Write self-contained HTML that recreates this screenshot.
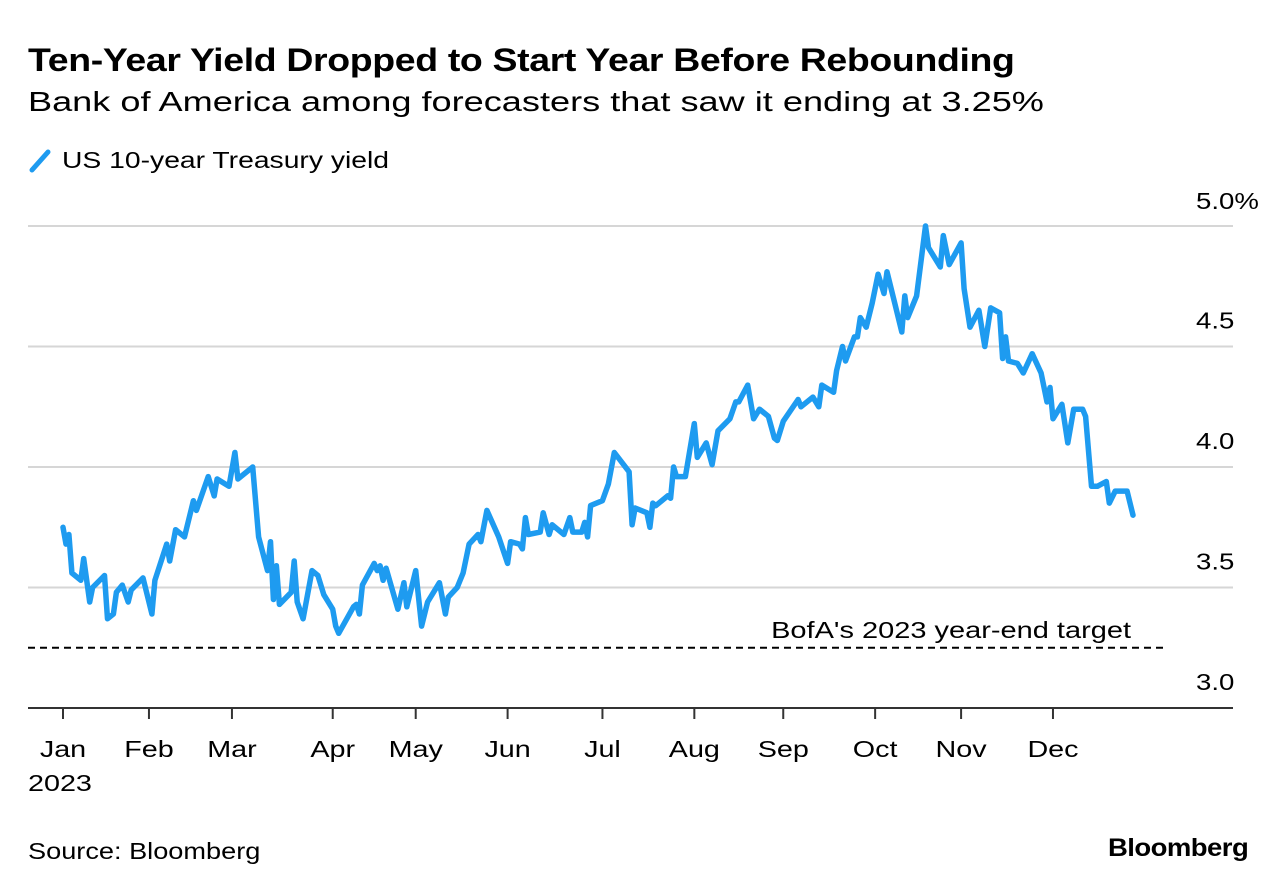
<!DOCTYPE html>
<html><head><meta charset="utf-8"><style>
body{margin:0;background:#fff;width:1287px;height:892px;overflow:hidden;font-family:"Liberation Sans",Arial,sans-serif;color:#000}
.t{position:absolute;white-space:nowrap;transform-origin:0 0}
</style></head><body>
<div class="t" style="left:28px;top:42px;font-size:32px;font-weight:bold;letter-spacing:-0.3px;transform:scaleX(1.17)">Ten-Year Yield Dropped to Start Year Before Rebounding</div>
<div class="t" style="left:28px;top:86px;font-size:28px;transform:scaleX(1.29)">Bank of America among forecasters that saw it ending at 3.25%</div>
<div class="t" style="left:28px;top:146px;font-size:23px"><svg width="24" height="28" style="vertical-align:-6px;margin-right:10px"><line x1="4" y1="24" x2="20" y2="6" stroke="#1e9bf0" stroke-width="5" stroke-linecap="round"/></svg><span style="display:inline-block;transform:scaleX(1.23);transform-origin:0 0">US 10-year Treasury yield</span></div>
<svg id="c" width="1287" height="892" style="position:absolute;left:0;top:0"></svg>
<div class="t" style="left:28px;top:838px;font-size:23px;transform:scaleX(1.18)">Source: Bloomberg</div>
<div class="t" style="left:1108px;top:834px;font-size:25px;font-weight:bold;letter-spacing:-0.5px;transform:scaleX(1.1)">Bloomberg</div>
<script>
const days=[0,1,2,3,6,7,9,10,14,15,17,18,20,22,23,27,30,31,35,36,38,41,44,45,49,51,52,56,58,59,64,66,69,70,71,72,73,77,78,79,81,84,86,88,91,92,93,98,99,100,101,105,106,107,108,109,113,115,116,119,121,123,127,129,130,133,135,137,140,141,143,147,150,151,154,155,156,157,161,162,164,165,169,171,172,175,176,177,178,182,184,186,191,192,193,197,198,199,200,204,205,206,207,210,213,214,217,219,221,225,227,228,231,233,235,238,240,241,243,248,249,253,255,256,260,261,263,264,267,268,269,271,273,275,277,278,281,283,284,285,288,291,292,296,297,299,303,304,306,309,311,313,316,317,318,319,322,324,327,330,332,333,334,337,339,341,344,345,347,349,352,353,355,359,361];
const yields=[3.75,3.68,3.72,3.56,3.53,3.62,3.44,3.50,3.55,3.37,3.39,3.48,3.51,3.44,3.49,3.54,3.39,3.53,3.68,3.61,3.74,3.71,3.86,3.82,3.96,3.88,3.95,3.92,4.06,3.95,4.00,3.71,3.57,3.69,3.45,3.59,3.43,3.48,3.61,3.44,3.37,3.57,3.55,3.47,3.41,3.34,3.31,3.42,3.43,3.39,3.51,3.60,3.57,3.59,3.53,3.58,3.41,3.52,3.42,3.57,3.34,3.44,3.52,3.39,3.46,3.50,3.56,3.68,3.72,3.69,3.82,3.71,3.60,3.69,3.68,3.66,3.79,3.72,3.73,3.81,3.72,3.76,3.72,3.79,3.73,3.73,3.77,3.71,3.84,3.86,3.93,4.06,3.98,3.76,3.83,3.81,3.75,3.85,3.84,3.88,3.87,4.00,3.96,3.96,4.18,4.04,4.10,4.01,4.15,4.20,4.27,4.27,4.34,4.20,4.24,4.21,4.12,4.11,4.19,4.28,4.25,4.29,4.25,4.34,4.31,4.40,4.50,4.44,4.54,4.54,4.62,4.58,4.68,4.80,4.72,4.81,4.66,4.56,4.71,4.62,4.71,5.00,4.91,4.83,4.96,4.84,4.93,4.74,4.58,4.65,4.50,4.66,4.64,4.45,4.54,4.44,4.43,4.39,4.47,4.39,4.27,4.33,4.20,4.26,4.10,4.24,4.24,4.21,3.92,3.92,3.94,3.85,3.90,3.90,3.80];
const monthLabels=["Jan","Feb","Mar","Apr","May","Jun","Jul","Aug","Sep","Oct","Nov","Dec"];
const monthDays=[0,29,57,91,119,150,182,213,243,274,303,334];
const yTicks=[3.0,3.5,4.0,4.5,5.0];
const yTickLabels=["3.0","3.5","4.0","4.5","5.0%"];
const target=[3.25];
const NS="http://www.w3.org/2000/svg";
const svg=document.getElementById('c');
const X=d=>63+d*2.964;
const Y=v=>708-(v-3)*241;
function mk(t,a){const e=document.createElementNS(NS,t);for(const k in a)e.setAttribute(k,a[k]);svg.appendChild(e);return e;}
function txt(s,x,y,anchor,sx){const e=mk('text',{x:0,y:0,'font-size':23,'text-anchor':anchor,transform:`translate(${x},${y}) scale(${sx},1)`});e.textContent=s;return e;}
yTicks.forEach((v,i)=>{
  if(i>0){const g=mk('line',{x1:28,x2:1233,y1:Y(v),y2:Y(v),stroke:'#d6d6d6','stroke-width':2});
  
  }
  const t=txt(yTickLabels[i],1196,Y(v)-(i==4?17:18),'start',1.2);
  
  
});
const ax=mk('line',{x1:28,x2:1233,y1:708,y2:708,stroke:'#333','stroke-width':2});


monthDays.forEach((d,i)=>{
  const tk=mk('line',{x1:X(d),x2:X(d),y1:708,y2:719,stroke:'#333','stroke-width':2});
  
  
  const t=txt(monthLabels[i],X(d),757,'middle',1.25);
  
  
});
const yr=txt('2023',28,791,'start',1.25);


const dl=mk('line',{x1:28,x2:1168,y1:Y(target[0]),y2:Y(target[0]),stroke:'#000','stroke-width':2,'stroke-dasharray':'7,5'});


const tl=txt("BofA's 2023 year-end target",1131,Y(target[0])-10,'end',1.26);


const p=mk('path',{d:days.map((d,i)=>(i?'L':'M')+X(d).toFixed(1)+','+Y(yields[i]).toFixed(1)).join(''),fill:'none',stroke:'#1e9bf0','stroke-width':5.5,'stroke-linejoin':'round','stroke-linecap':'round'});


</script>
</body></html>
